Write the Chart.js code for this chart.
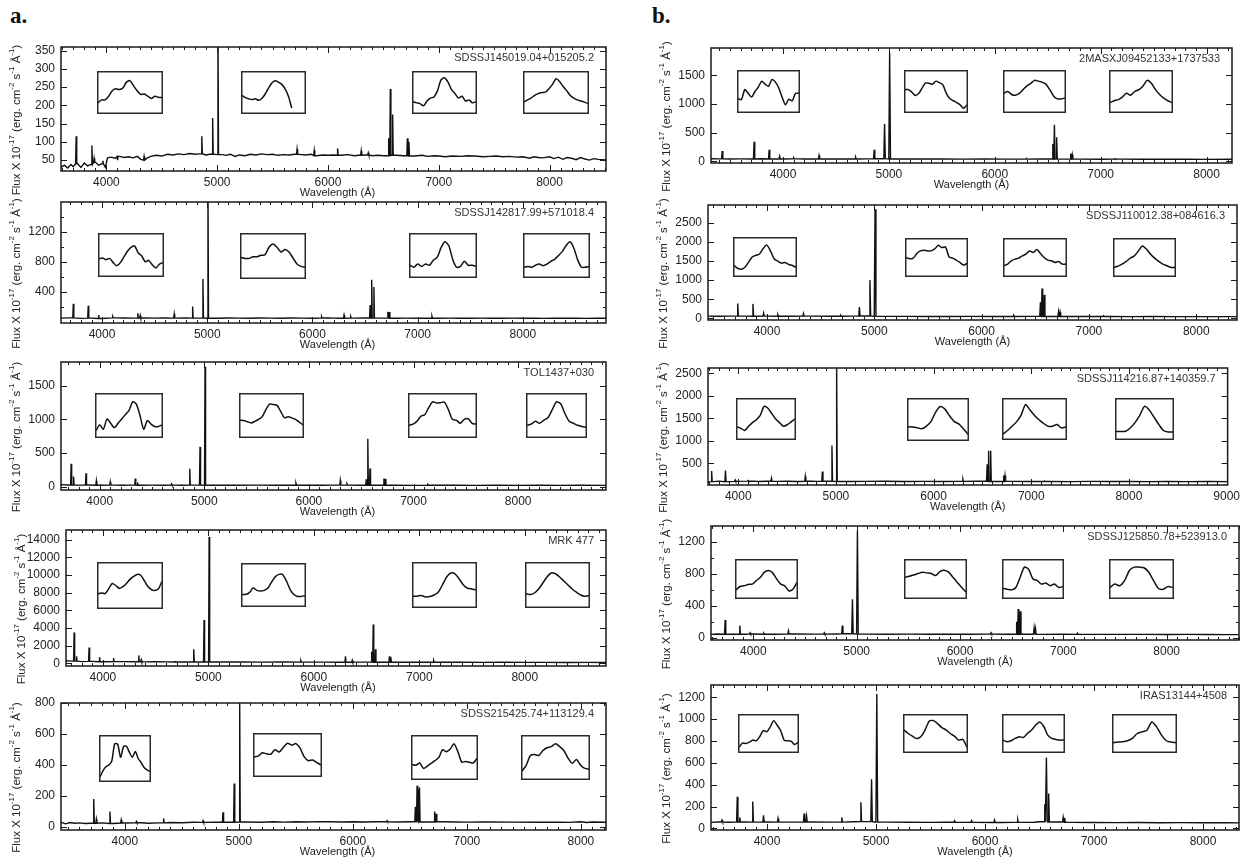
<!DOCTYPE html>
<html>
<head>
<meta charset="utf-8">
<script src="https://cdn.jsdelivr.net/npm/chart.js@4.4.0/dist/chart.umd.min.js"></script>
<style>
  body { margin: 0; background: #fff; width: 1251px; height: 861px; position: relative; overflow: hidden; }
  canvas { position: absolute; }
  .tag { position: absolute; font: bold 23px "Liberation Serif", "DejaVu Serif", serif; color: #111; }
</style>
</head>
<body>
<div class="tag" style="left:10px;top:3px">a.</div>
<div class="tag" style="left:652px;top:3px">b.</div>
<script>
// ---- object names ----
const names = ['SDSSJ145019.04+015205.2', 'SDSSJ142817.99+571018.4', 'TOL1437+030', 'MRK 477',
  'SDSS215425.74+113129.4', '2MASXJ09452133+1737533', 'SDSSJ110012.38+084616.3',
  'SDSSJ114216.87+140359.7', 'SDSSJ125850.78+523913.0', 'IRAS13144+4508'];

// ---- tick labels ----
const xTicks8 = [4000, 5000, 6000, 7000, 8000];
const xTicks9 = [4000, 5000, 6000, 7000, 8000, 9000];
const yTicksA1 = [50, 100, 150, 200, 250, 300, 350];
const yTicksA2 = [400, 800, 1200];
const yMinorA2 = [200, 600, 1000, 1400];
const yTicksA3 = [0, 500, 1000, 1500];
const yTicksA4 = [0, 2000, 4000, 6000, 8000, 10000, 12000, 14000];
const yTicksA5 = [0, 200, 400, 600, 800];
const yTicksB1 = [0, 500, 1000, 1500];
const yTicksB2 = [0, 500, 1000, 1500, 2000, 2500];
const yTicksB3 = [500, 1000, 1500, 2000, 2500];
const yTicksB4 = [0, 400, 800, 1200];
const yMinorB4 = [200, 600, 1000];
const yTicksB5 = [0, 200, 400, 600, 800, 1000, 1200];

// ---- continuum [wavelength, flux] ----
const contA1 = [[3590,30],[3620,36],[3650,28],[3680,38],[3700,32],[3740,40],[3770,30],[3800,42],[3830,34],[3860,38],
  [3900,44],[3930,36],[3960,40],[3990,30],[4010,56],[4040,58],[4080,55],[4120,60],[4160,57],[4200,59],[4240,56],
  [4280,60],[4310,52],[4345,50],[4370,56],[4400,60],[4450,63],[4500,61],[4550,66],[4600,64],[4650,67],[4700,65],
  [4750,68],[4800,66],[4840,67],[4900,64],[4930,66],[5050,65],[5080,63],[5120,66],[5160,60],[5200,64],[5250,62],
  [5300,66],[5350,64],[5400,67],[5450,65],[5500,66],[5550,63],[5600,65],[5650,64],[5700,66],[5760,65],[5800,64],
  [5850,66],[5900,62],[5950,64],[6000,63],[6050,64],[6120,63],[6180,65],[6240,62],[6280,63],[6340,64],[6400,62],
  [6450,63],[6500,62],[6620,63],[6680,62],[6780,61],[6850,63],[6900,60],[6960,62],[7000,61],[7060,59],[7120,61],
  [7200,60],[7260,62],[7320,61],[7400,59],[7460,60],[7520,61],[7580,59],[7640,60],[7700,58],[7760,59],[7820,55],
  [7860,59],[7900,57],[7940,56],[8000,59],[8040,54],[8080,58],[8120,52],[8160,57],[8200,55],[8240,51],[8280,57],
  [8320,53],[8360,50],[8400,54],[8440,52],[8510,50]];
const contA2 = [[3610,55],[3700,58],[3800,52],[3900,55],[4000,50],[4150,58],[4200,56],[4300,55],[4400,57],[4500,55],
  [4600,56],[4700,55],[4800,57],[4900,55],[5100,54],[5200,56],[5300,55],[5400,54],[5500,56],[5600,55],[5700,54],
  [5800,56],[5900,55],[6000,54],[6150,56],[6200,55],[6250,54],[6400,55],[6500,56],[6650,55],[6800,54],[6900,55],
  [7000,53],[7200,54],[7300,55],[7400,53],[7500,54],[7600,55],[7700,53],[7800,54],[7900,55],[8000,53],[8100,54],
  [8200,52],[8300,54],[8400,53],[8500,55],[8600,52],[8700,54],[8790,53]];
const contA3 = [[3630,30],[3700,25],[3800,22],[3900,24],[4000,20],[4150,22],[4200,21],[4300,23],[4400,20],[4500,22],
  [4600,21],[4700,22],[4800,20],[4900,22],[5100,21],[5300,20],[5500,22],[5700,20],[5900,21],[6100,20],[6250,22],
  [6500,21],[6650,20],[6800,21],[7000,19],[7200,20],[7400,21],[7600,19],[7800,20],[8000,19],[8200,20],[8400,18],
  [8600,20],[8840,19]];
const contA4 = [[3650,300],[3700,250],[3800,200],[3900,220],[4000,180],[4150,200],[4200,190],[4300,180],[4400,170],
  [4500,180],[4600,170],[4700,160],[4800,170],[4900,160],[5100,150],[5300,150],[5500,140],[5700,150],[5900,140],
  [6100,140],[6250,130],[6450,140],[6650,130],[6800,120],[7000,130],[7200,120],[7400,120],[7600,110],[7800,120],
  [8000,110],[8200,110],[8400,100],[8600,110],[8770,100]];
const contA5 = [[3440,30],[3480,20],[3520,28],[3560,24],[3600,26],[3650,22],[3700,24],[3800,26],[3900,22],[4000,25],
  [4150,27],[4200,24],[4300,26],[4400,28],[4500,27],[4600,30],[4700,29],[4800,31],[4900,30],[5060,32],[5200,30],
  [5300,33],[5400,31],[5500,33],[5600,32],[5700,34],[5800,33],[5900,32],[6000,33],[6100,32],[6200,33],[6400,32],
  [6500,33],[6650,32],[6800,33],[6900,32],[7000,31],[7200,32],[7400,31],[7600,30],[7800,31],[7900,29],[8000,33],
  [8050,28],[8100,32],[8220,30]];
const contB1 = [[3320,45],[3400,42],[3500,40],[3600,42],[3700,40],[3800,43],[3900,41],[4000,40],[4150,42],[4200,40],
  [4300,41],[4400,40],[4500,41],[4600,40],[4700,41],[4800,42],[4900,45],[5100,40],[5300,39],[5500,40],[5700,38],
  [5900,39],[6100,38],[6250,37],[6450,40],[6650,38],[6800,37],[7000,36],[7200,37],[7400,35],[7600,36],[7800,35],
  [8000,34],[8240,35]];
const contB2 = [[3450,60],[3550,58],[3650,62],[3800,60],[3900,58],[4000,60],[4200,58],[4400,60],[4600,58],[4800,62],
  [4900,65],[5100,55],[5300,54],[5500,53],[5700,52],[5900,54],[6100,52],[6250,53],[6450,55],[6650,52],[6800,50],
  [7000,51],[7200,50],[7400,49],[7600,50],[7800,48],[8000,49],[8200,48],[8380,47]];
const contB3 = [[3690,80],[3750,95],[3800,105],[3900,95],[4000,100],[4150,105],[4200,98],[4300,102],[4400,100],
  [4500,104],[4600,98],[4750,102],[4800,100],[4900,104],[5100,98],[5300,100],[5500,102],[5700,98],[5900,100],
  [6100,97],[6250,100],[6450,102],[6650,98],[6800,100],[7000,97],[7200,99],[7400,96],[7600,100],[7800,97],[8000,99],
  [8200,96],[8400,98],[8600,95],[8800,97],[9010,94]];
const contB4 = [[3590,40],[3650,45],[3700,42],[3800,44],[3900,42],[4000,45],[4200,43],[4400,45],[4600,44],[4800,46],
  [4900,48],[5100,44],[5300,43],[5500,44],[5700,42],[5900,43],[6100,42],[6250,44],[6450,43],[6650,42],[6800,41],
  [7000,42],[7200,41],[7400,40],[7600,41],[7800,40],[8000,39],[8200,40],[8400,39],[8600,38],[8700,38]];
const contB5 = [[3486,55],[3550,58],[3650,56],[3800,58],[3900,57],[4000,58],[4200,57],[4400,58],[4600,57],[4800,60],
  [4900,62],[5100,57],[5300,56],[5500,55],[5650,56],[5900,55],[6150,54],[6250,55],[6450,56],[6500,60],[6650,58],
  [6800,55],[7000,54],[7200,53],[7400,54],[7600,52],[7800,53],[8000,52],[8200,51],[8330,50]];

// ---- emission lines [wavelength, peak flux, optional half width] ----
const linesA1 = [[3727,115],[3869,90],[3889,55],[3968,48],[4101,50],[4340,60],[4861,115],[4959,165],[5007,420],
  [5721,80],[5876,76],[6087,82],[6300,75],[6364,70],[6548,110],[6563,245],[6584,175],[6717,110],[6731,100]];
const linesA2 = [[3727,245],[3869,218],[3968,95],[4101,75],[4340,120],[4363,90],[4686,110],[4861,210],[4959,575],
  [5007,1800],[6087,75],[6300,95],[6364,75],[6548,230],[6563,565],[6584,470],[6717,140],[6731,135],[7136,80]];
const linesA3 = [[3727,340],[3750,150],[3869,200],[3968,85],[4101,70],[4340,120],[4363,60],[4686,40],[4861,265],
  [4959,590],[5007,1780],[5876,50],[6300,90],[6364,40],[6548,110],[6563,710],[6584,270],[6717,120],[6731,115],[7136,30]];
const linesA4 = [[3727,3500],[3750,800],[3869,1800],[3968,700],[4101,600],[4340,900],[4363,400],[4686,200],[4861,1600],
  [4959,4900],[5007,14300],[5876,300],[6300,800],[6364,350],[6548,1300],[6563,4400],[6584,1600],[6717,800],[6731,750],[7136,300]];
const linesA5 = [[3727,180],[3750,50],[3869,100],[3968,45],[4101,35],[4340,55],[4686,40],[4861,95],[4959,280],[5007,850],
  [6300,40],[6548,130],[6563,265],[6575,240],[6584,255],[6717,100],[6731,85],[7136,32]];
const linesB1 = [[3426,180],[3727,340],[3869,200],[3968,90],[4101,60],[4340,100],[4686,70],[4861,200],[4959,650,7],
  [5007,1900,8],[6300,50],[6548,300],[6563,640],[6584,420],[6717,130],[6731,115],[7136,45]];
const linesB2 = [[3727,390],[3869,380],[3968,140],[4101,100],[4340,130],[4686,90],[4861,300],[4959,1000,7],[5007,2850,8],
  [6300,80],[6548,420],[6563,780],[6584,620],[6717,180],[6731,160],[7136,70]];
const linesB3 = [[3727,330],[3869,340],[3968,130],[4101,120],[4340,170],[4686,210],[4861,320],[4959,900],[5007,2700],
  [6300,150],[6548,480],[6563,780],[6584,780],[6717,230],[6731,225],[7136,110]];
const linesB4 = [[3727,220],[3869,150],[3968,60],[4101,55],[4340,85],[4686,60],[4861,150],[4959,480,7],[5007,1340,8],
  [6300,60],[6548,200],[6563,360],[6584,330],[6717,120],[6731,110],[7136,55]];
const linesB5 = [[3587,75],[3727,290],[3750,100],[3869,245],[3968,120],[4101,90],[4340,135],[4363,110],[4686,100],
  [4861,240],[4959,450,7],[5007,1230,8],[5721,70],[5876,70],[6087,75],[6300,80],[6548,220],[6563,650,8],[6584,320,6],
  [6717,100],[6731,95]];

// ---- inset profiles (relative flux, 0-100) ----
const insetsA1 = [
  [22,30,30,40,55,60,58,62,78,82,68,55,45,46,40,34,40,37,36],
  [42,36,33,31,33,29,34,46,62,76,82,78,72,60,40,8,null,null,null,null],
  [25,22,20,14,27,35,38,55,84,90,78,58,47,35,40,27,30,22,25],
  [25,30,35,42,47,50,51,60,72,87,80,66,55,42,35,30,27,24,20]];
const insetsA2 = [
  [40,42,38,41,30,22,30,45,60,70,74,56,48,32,36,24,16,26,30],
  [46,44,44,48,48,52,53,72,80,72,60,66,60,45,30,24,22],
  [25,20,28,22,28,25,38,45,70,85,75,40,20,22,35,25,25,22],
  [20,22,20,25,28,24,28,35,40,50,60,75,85,70,40,20,20,22]];
const insetsA3 = [
  [11,26,15,41,30,19,30,41,52,63,85,79,50,15,37,28,22,22,26],
  [38,37,34,31,35,40,47,65,79,78,76,60,44,47,44,40,33,26],
  [25,28,35,48,52,70,85,82,83,84,65,40,38,30,40,42,30,28],
  [25,28,35,30,38,45,65,85,80,55,35,30,25,22,20]];
const insetsA4 = [
  [30,32,30,42,55,50,43,47,55,65,72,77,75,62,48,40,38,42,60],
  [25,25,30,42,36,34,36,42,58,72,78,77,60,38,25,20,20,22],
  [22,22,24,20,21,25,32,50,70,80,78,65,50,42,40,38],
  [28,26,30,40,55,70,80,78,70,60,50,40,32,25,22,24]];
const insetsA5 = [
  [5,20,30,34,44,86,85,53,79,80,65,53,67,50,40,28,22,18],
  [45,47,56,53,52,64,58,70,81,76,80,68,45,35,37,30,24],
  [32,30,36,22,28,35,42,50,70,65,72,85,65,38,40,38,36,48],
  [15,30,55,58,55,68,75,78,85,78,68,48,35,45,30,22,20]];
const insetsB1 = [
  [31,28,55,45,35,50,62,78,70,64,82,76,60,35,14,29,25,45,45],
  [55,55,48,39,45,60,73,72,70,78,74,68,45,31,25,20,14,5,14],
  [45,50,42,40,45,55,65,72,80,78,75,70,55,38,30,30,32],
  [20,25,28,35,45,40,50,55,65,80,72,55,42,32,25,20]];
const insetsB2 = [
  [25,17,14,20,35,50,55,59,75,85,68,45,38,32,34,28,25,20],
  [50,46,48,62,70,72,70,70,76,87,80,82,52,48,42,35,27,32],
  [25,30,40,45,48,55,60,70,65,74,62,50,42,40,35,38,30,30],
  [20,24,30,38,48,55,70,85,75,60,48,38,30,25,20,20]];
const insetsB3 = [
  [28,24,18,30,40,48,60,85,80,65,50,40,30,34,42,50],
  [30,30,28,25,32,45,70,85,78,60,45,38,25,10],
  [8,18,30,42,60,90,75,60,48,38,30,30,35,25,28],
  [15,15,16,25,40,60,85,75,55,35,18,14,14]];
const insetsB4 = [
  [18,28,30,34,35,45,55,70,75,68,50,35,30,15,20,40],
  [55,58,62,66,70,68,66,60,72,76,70,55,40,25,12],
  [22,20,18,25,55,85,78,50,45,35,38,30,35,25,28],
  [25,35,30,45,75,85,85,83,70,45,22,20,28,25]];
const insetsB5 = [
  [8,21,20,24,30,28,41,59,55,70,89,75,59,30,28,27,17,23],
  [61,50,42,35,40,60,87,89,80,68,61,50,42,30,32,8],
  [30,25,28,35,40,38,50,60,75,85,72,45,35,32,30,30],
  [22,24,25,28,35,50,55,60,85,70,45,28,24,22]];

// ---- panel layout (page pixels) and axis limits ----
const panels = [
  { box: [61, 47, 606, 171], x: [3590, 8510], y: [20, 360], cont: contA1, lines: linesA1, hw: 5, yt: yTicksA1, ym: [], xt: xTicks8, ins: insetsA1, shift: 4,
    ib: [[97,71,163,114],[241,71,306,114],[412,71,477,114],[523,71,589,114]] },
  { box: [61, 202, 606, 323], x: [3610, 8790], y: [-10, 1600], cont: contA2, lines: linesA2, hw: 5, yt: yTicksA2, ym: yMinorA2, xt: xTicks8, ins: insetsA2, shift: 4,
    ib: [[98,233,164,277],[240,233,306,279],[409,233,477,278],[523,233,590,278]] },
  { box: [61, 362, 606, 490], x: [3630, 8840], y: [-50, 1850], cont: contA3, lines: linesA3, hw: 5, yt: yTicksA3, ym: [], xt: xTicks8, ins: insetsA3, shift: 4,
    ib: [[95,393,163,438],[239,393,304,438],[408,393,477,438],[526,393,587,438]] },
  { box: [66, 530, 606, 666], x: [3650, 8770], y: [-300, 15100], cont: contA4, lines: linesA4, hw: 5, yt: yTicksA4, ym: [], xt: xTicks8, ins: insetsA4, shift: 2,
    ib: [[97,562,163,609],[241,563,306,607],[412,562,477,608],[525,562,590,608]] },
  { box: [61, 703, 606, 830], x: [3440, 8220], y: [-20, 800], cont: contA5, lines: linesA5, hw: 5, yt: yTicksA5, ym: [], xt: xTicks8, ins: insetsA5, shift: 4,
    ib: [[99,735,151,782],[253,733,322,777],[411,735,478,780],[521,735,590,780]] },
  { box: [711, 48, 1232, 163], x: [3320, 8240], y: [-30, 1980], cont: contB1, lines: linesB1, hw: 6, yt: yTicksB1, ym: [], xt: xTicks8, ins: insetsB1, shift: 0,
    ib: [[737,70,800,113],[904,70,968,113],[1003,70,1066,113],[1109,70,1173,113]] },
  { box: [708, 205, 1237, 320], x: [3450, 8380], y: [-40, 2960], cont: contB2, lines: linesB2, hw: 6, yt: yTicksB2, ym: [], xt: xTicks8, ins: insetsB2, shift: 0,
    ib: [[733,237,797,277],[905,238,968,277],[1003,238,1067,277],[1113,238,1176,277]] },
  { box: [708, 368, 1238, 485], x: [3690, 9010], y: [20, 2620], cont: contB3, lines: linesB3, hw: 6, yt: yTicksB3, ym: [], xt: xTicks9, ins: insetsB3, shift: 0,
    ib: [[736,398,796,440],[907,398,969,441],[1002,398,1067,440],[1115,398,1174,440]] },
  { box: [711, 526, 1239, 640], x: [3590, 8700], y: [-30, 1400], cont: contB4, lines: linesB4, hw: 6, yt: yTicksB4, ym: yMinorB4, xt: xTicks8, ins: insetsB4, shift: 0,
    ib: [[735,559,798,599],[904,559,967,599],[1002,559,1064,599],[1109,559,1174,599]] },
  { box: [711, 685, 1239, 830], x: [3486, 8330], y: [-15, 1313], cont: contB5, lines: linesB5, hw: 6, yt: yTicksB5, ym: [], xt: xTicks8, ins: insetsB5, shift: 0,
    ib: [[738,714,799,753],[903,714,968,753],[1002,714,1065,753],[1112,714,1177,753]] }
];

const FONT = '"Liberation Sans", Arial, sans-serif';
Chart.defaults.font.family = FONT;

// continuum + line spikes, sorted by wavelength
function spectrum(cont, lines, hw) {
  const nearest = wl => cont.reduce((b, p) => Math.abs(p[0] - wl) < Math.abs(b[0] - wl) ? p : b)[1];
  const pts = cont.filter(p => !lines.some(l => Math.abs(p[0] - l[0]) <= (l[2] || hw)))
    .map(p => ({ x: p[0], y: p[1] }));
  lines.forEach(l => {
    const w = l[2] || hw, base = nearest(l[0]);
    pts.push({ x: l[0] - w, y: base }, { x: l[0], y: l[1] }, { x: l[0] + w, y: base });
  });
  return pts.sort((a, b) => a.x - b.x);
}

function yTitle(ctx, cx, cy) {
  const parts = [['Flux X 10', 0], ['-17', 1], [' (erg. cm', 0], ['-2', 1], [' s', 0], ['-1', 1], [' Å', 0], ['-1', 1], [')', 0]];
  const f = s => (s ? '8px ' : '11.5px ') + FONT;
  ctx.save();
  ctx.translate(cx, cy);
  ctx.rotate(-Math.PI / 2);
  ctx.fillStyle = '#222';
  ctx.textBaseline = 'middle';
  let w = 0;
  parts.forEach(p => { ctx.font = f(p[1]); w += ctx.measureText(p[0]).width; });
  let xx = -w / 2;
  parts.forEach(p => {
    ctx.font = f(p[1]);
    ctx.fillText(p[0], xx, p[1] ? -5 : 0);
    xx += ctx.measureText(p[0]).width;
  });
  ctx.restore();
}

const frame = {
  id: 'frame',
  afterDraw(chart, args, o) {
    const { ctx, chartArea: a, scales: { x, y } } = chart;
    ctx.save();
    ctx.strokeStyle = '#1a1a1a';
    ctx.lineWidth = 1;
    ctx.beginPath();
    for (let v = Math.ceil(x.min / 100) * 100; v <= x.max; v += 100) {
      const px = Math.round(x.getPixelForValue(v)) + 0.5;
      const len = v % 1000 === 0 ? 6 : 3;
      ctx.moveTo(px, a.bottom); ctx.lineTo(px, a.bottom - len);
      ctx.moveTo(px, a.top); ctx.lineTo(px, a.top + len);
    }
    const yt = (vals, len) => vals.forEach(v => {
      const py = Math.round(y.getPixelForValue(v)) + 0.5;
      ctx.moveTo(a.left, py); ctx.lineTo(a.left + len, py);
      ctx.moveTo(a.right, py); ctx.lineTo(a.right - len, py);
    });
    yt(o.yt, 6);
    yt(o.ym, 3);
    ctx.stroke();
    ctx.lineWidth = 1.5;
    ctx.strokeRect(a.left, a.top, a.right - a.left, a.bottom - a.top);
    ctx.fillStyle = '#333';
    ctx.font = '11px ' + FONT;
    ctx.textAlign = 'right';
    ctx.textBaseline = 'middle';
    ctx.fillText(o.name, a.right - 12, a.top + 11);
    ctx.fillStyle = '#222';
    ctx.textAlign = 'center';
    ctx.fillText('Wavelength (Å)', (a.left + a.right) / 2 + o.shift, a.bottom + 22);
    ctx.restore();
    yTitle(ctx, a.left - 44, (a.top + a.bottom + 22) / 2);
  }
};

const insetFrame = {
  id: 'insetFrame',
  afterDraw(chart) {
    const { ctx, width, height } = chart;
    ctx.save();
    ctx.strokeStyle = '#2a2a2a';
    ctx.lineWidth = 1.5;
    ctx.strokeRect(0.75, 0.75, width - 1.5, height - 1.5);
    ctx.restore();
  }
};

function addCanvas(left, top, w, h) {
  const cv = document.createElement('canvas');
  cv.width = w; cv.height = h;
  cv.style.left = left + 'px'; cv.style.top = top + 'px';
  cv.style.width = w + 'px'; cv.style.height = h + 'px';
  document.body.appendChild(cv);
  return cv;
}

const L = 60, R = 6, T = 20, B = 40, XH = 24;

panels.forEach((p, i) => {
  const w = p.box[2] - p.box[0] + L + R, h = p.box[3] - p.box[1] + T + B;
  const cv = addCanvas(p.box[0] - L, p.box[1] - T, w, h);
  new Chart(cv, {
    type: 'line',
    data: { datasets: [{ data: spectrum(p.cont, p.lines, p.hw), borderColor: '#111', borderWidth: 1.4, pointRadius: 0, tension: 0 }] },
    options: {
      responsive: false, animation: false, events: [],
      layout: { padding: { top: T, right: R, left: 0, bottom: B - XH } },
      plugins: {
        legend: { display: false }, tooltip: { enabled: false },
        frame: { name: names[i], yt: p.yt, ym: p.ym, shift: p.shift }
      },
      scales: {
        x: {
          type: 'linear', min: p.x[0], max: p.x[1],
          afterBuildTicks: s => { s.ticks = p.xt.map(v => ({ value: v })); },
          afterFit: s => { s.height = XH; },
          grid: { display: false, drawTicks: false }, border: { display: false },
          ticks: { font: { size: 12 }, color: '#222', padding: 4, maxRotation: 0, autoSkip: false, callback: v => String(v) }
        },
        y: {
          min: p.y[0], max: p.y[1],
          afterBuildTicks: s => { s.ticks = p.yt.map(v => ({ value: v })); },
          afterFit: s => { s.width = L; },
          grid: { display: false, drawTicks: false }, border: { display: false },
          ticks: { font: { size: 12 }, color: '#222', padding: 6, autoSkip: false, callback: v => String(v) }
        }
      }
    },
    plugins: [frame]
  });

  p.ins.forEach((vals, k) => {
    const b = p.ib[k];
    const icv = addCanvas(b[0], b[1], b[2] - b[0], b[3] - b[1]);
    new Chart(icv, {
      type: 'line',
      data: { labels: vals.map((v, j) => j), datasets: [{ data: vals, borderColor: '#111', borderWidth: 1.5, pointRadius: 0, tension: 0.25, spanGaps: false }] },
      options: {
        responsive: false, animation: false, events: [],
        layout: { padding: { left: 1, right: 1, top: 3, bottom: 3 } },
        plugins: { legend: { display: false }, tooltip: { enabled: false } },
        scales: { x: { display: false, offset: false }, y: { display: false, min: 0, max: 100 } }
      },
      plugins: [insetFrame]
    });
  });
});
</script>
</body>
</html>
